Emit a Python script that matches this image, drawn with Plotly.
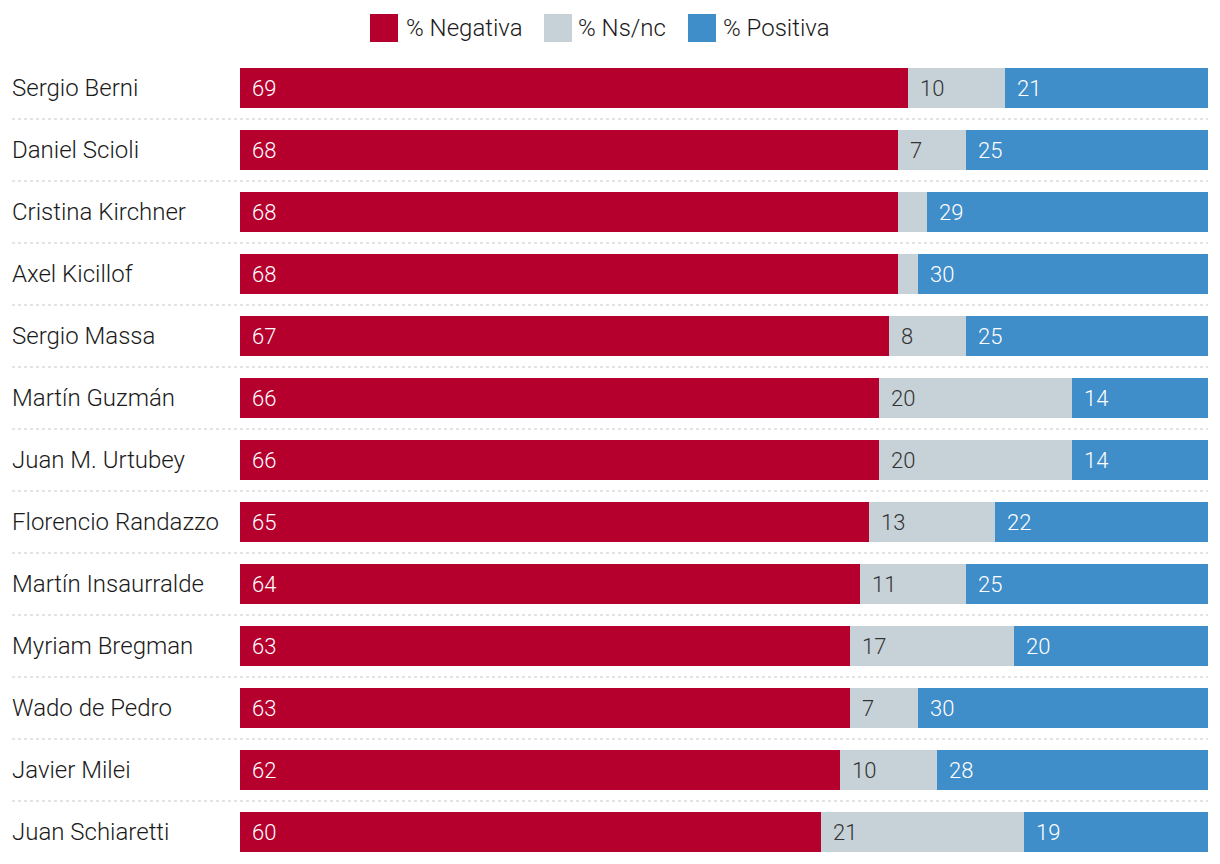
import plotly.graph_objects as go

names = ["Sergio Berni", "Daniel Scioli", "Cristina Kirchner", "Axel Kicillof",
         "Sergio Massa", "Martín Guzmán", "Juan M. Urtubey", "Florencio Randazzo",
         "Martín Insaurralde", "Myriam Bregman", "Wado de Pedro", "Javier Milei",
         "Juan Schiaretti"]
negativa = [69, 68, 68, 68, 67, 66, 66, 65, 64, 63, 63, 62, 60]
nsnc = [10, 7, 3, 2, 8, 20, 20, 13, 11, 17, 7, 10, 21]
positiva = [21, 25, 29, 30, 25, 14, 14, 22, 25, 20, 30, 28, 19]
series_names = ["% Negativa", "% Ns/nc", "% Positiva"]

colors = ["#b5002e", "#c7d2d8", "#3f8dc9"]
label_colors = ["#ffffff", "#333333", "#ffffff"]
FONT = "Roboto"

# page body has an 8px offset; compensate so the picture lands where intended
OFF = 8
W, H = 1220, 864
ML, MR, MT, MB = 12 - OFF, 12 + OFF, 57 - OFF, 1 + OFF
PW = W - ML - MR
PH = H - MT - MB
dom0 = 228 / PW

fig = go.Figure()
series = [negativa, nsnc, positiva]
for s, vals in enumerate(series):
    fig.add_trace(go.Bar(
        y=names, x=vals, orientation="h", name=series_names[s],
        marker=dict(color=colors[s], line=dict(width=0)),
        hoverinfo="x+name", showlegend=False,
    ))

annotations = []
# value labels
for i, n in enumerate(names):
    base = 0
    for s, vals in enumerate(series):
        v = vals[i]
        if v >= 5:
            annotations.append(dict(
                x=base, y=n, xref="x", yref="y", text=str(v), showarrow=False,
                xanchor="left", yanchor="middle", xshift=10,
                font=dict(family=FONT, size=22, color=label_colors[s], weight=300),
            ))
        base += v

# category labels (left aligned)
for n in names:
    annotations.append(dict(
        x=0, y=n, xref="paper", yref="y", text=n, showarrow=False,
        xanchor="left", yanchor="middle", xshift=-2,
        font=dict(family=FONT, size=24, color="#1a1a1a", weight=300),
    ))

def px_x(p):
    return (p - OFF - ML) / PW

def px_y(p):
    return (MT + PH - (p - OFF)) / PH

# legend
shapes = []
legend_items = [(370, 404), (544, 576), (688, 721)]
for s, (sx, tx) in enumerate(legend_items):
    shapes.append(dict(type="rect", xref="paper", yref="paper",
                       x0=px_x(sx), x1=px_x(sx + 28), y0=px_y(42), y1=px_y(14),
                       fillcolor=colors[s], line=dict(width=0)))
    annotations.append(dict(
        x=px_x(tx), y=px_y(28), xref="paper", yref="paper", text=series_names[s],
        showarrow=False, xanchor="left", yanchor="middle",
        font=dict(family=FONT, size=24, color="#1a1a1a", weight=300),
    ))

# dotted separators
for k in range(len(names) - 1):
    shapes.append(dict(type="line", xref="paper", yref="y",
                       x0=0, x1=1, y0=k + 0.5, y1=k + 0.5,
                       line=dict(color="#c8c8c8", width=1.2, dash="dot"),
                       layer="below"))

fig.update_layout(
    barmode="stack",
    width=W, height=H,
    margin=dict(l=ML, r=MR, t=MT, b=MB, pad=0),
    paper_bgcolor="white", plot_bgcolor="white",
    bargap=22 / 62,
    xaxis=dict(domain=[dom0, 1], range=[0, 100], showgrid=False, zeroline=False,
               showticklabels=False, ticks="", fixedrange=True),
    yaxis=dict(range=[len(names) - 0.5, -0.5], showgrid=False, zeroline=False,
               showticklabels=False, ticks="", type="category",
               categoryorder="array", categoryarray=names, fixedrange=True),
    annotations=annotations,
    shapes=shapes,
    font=dict(family=FONT),
)

fig.write_html("out.html")
